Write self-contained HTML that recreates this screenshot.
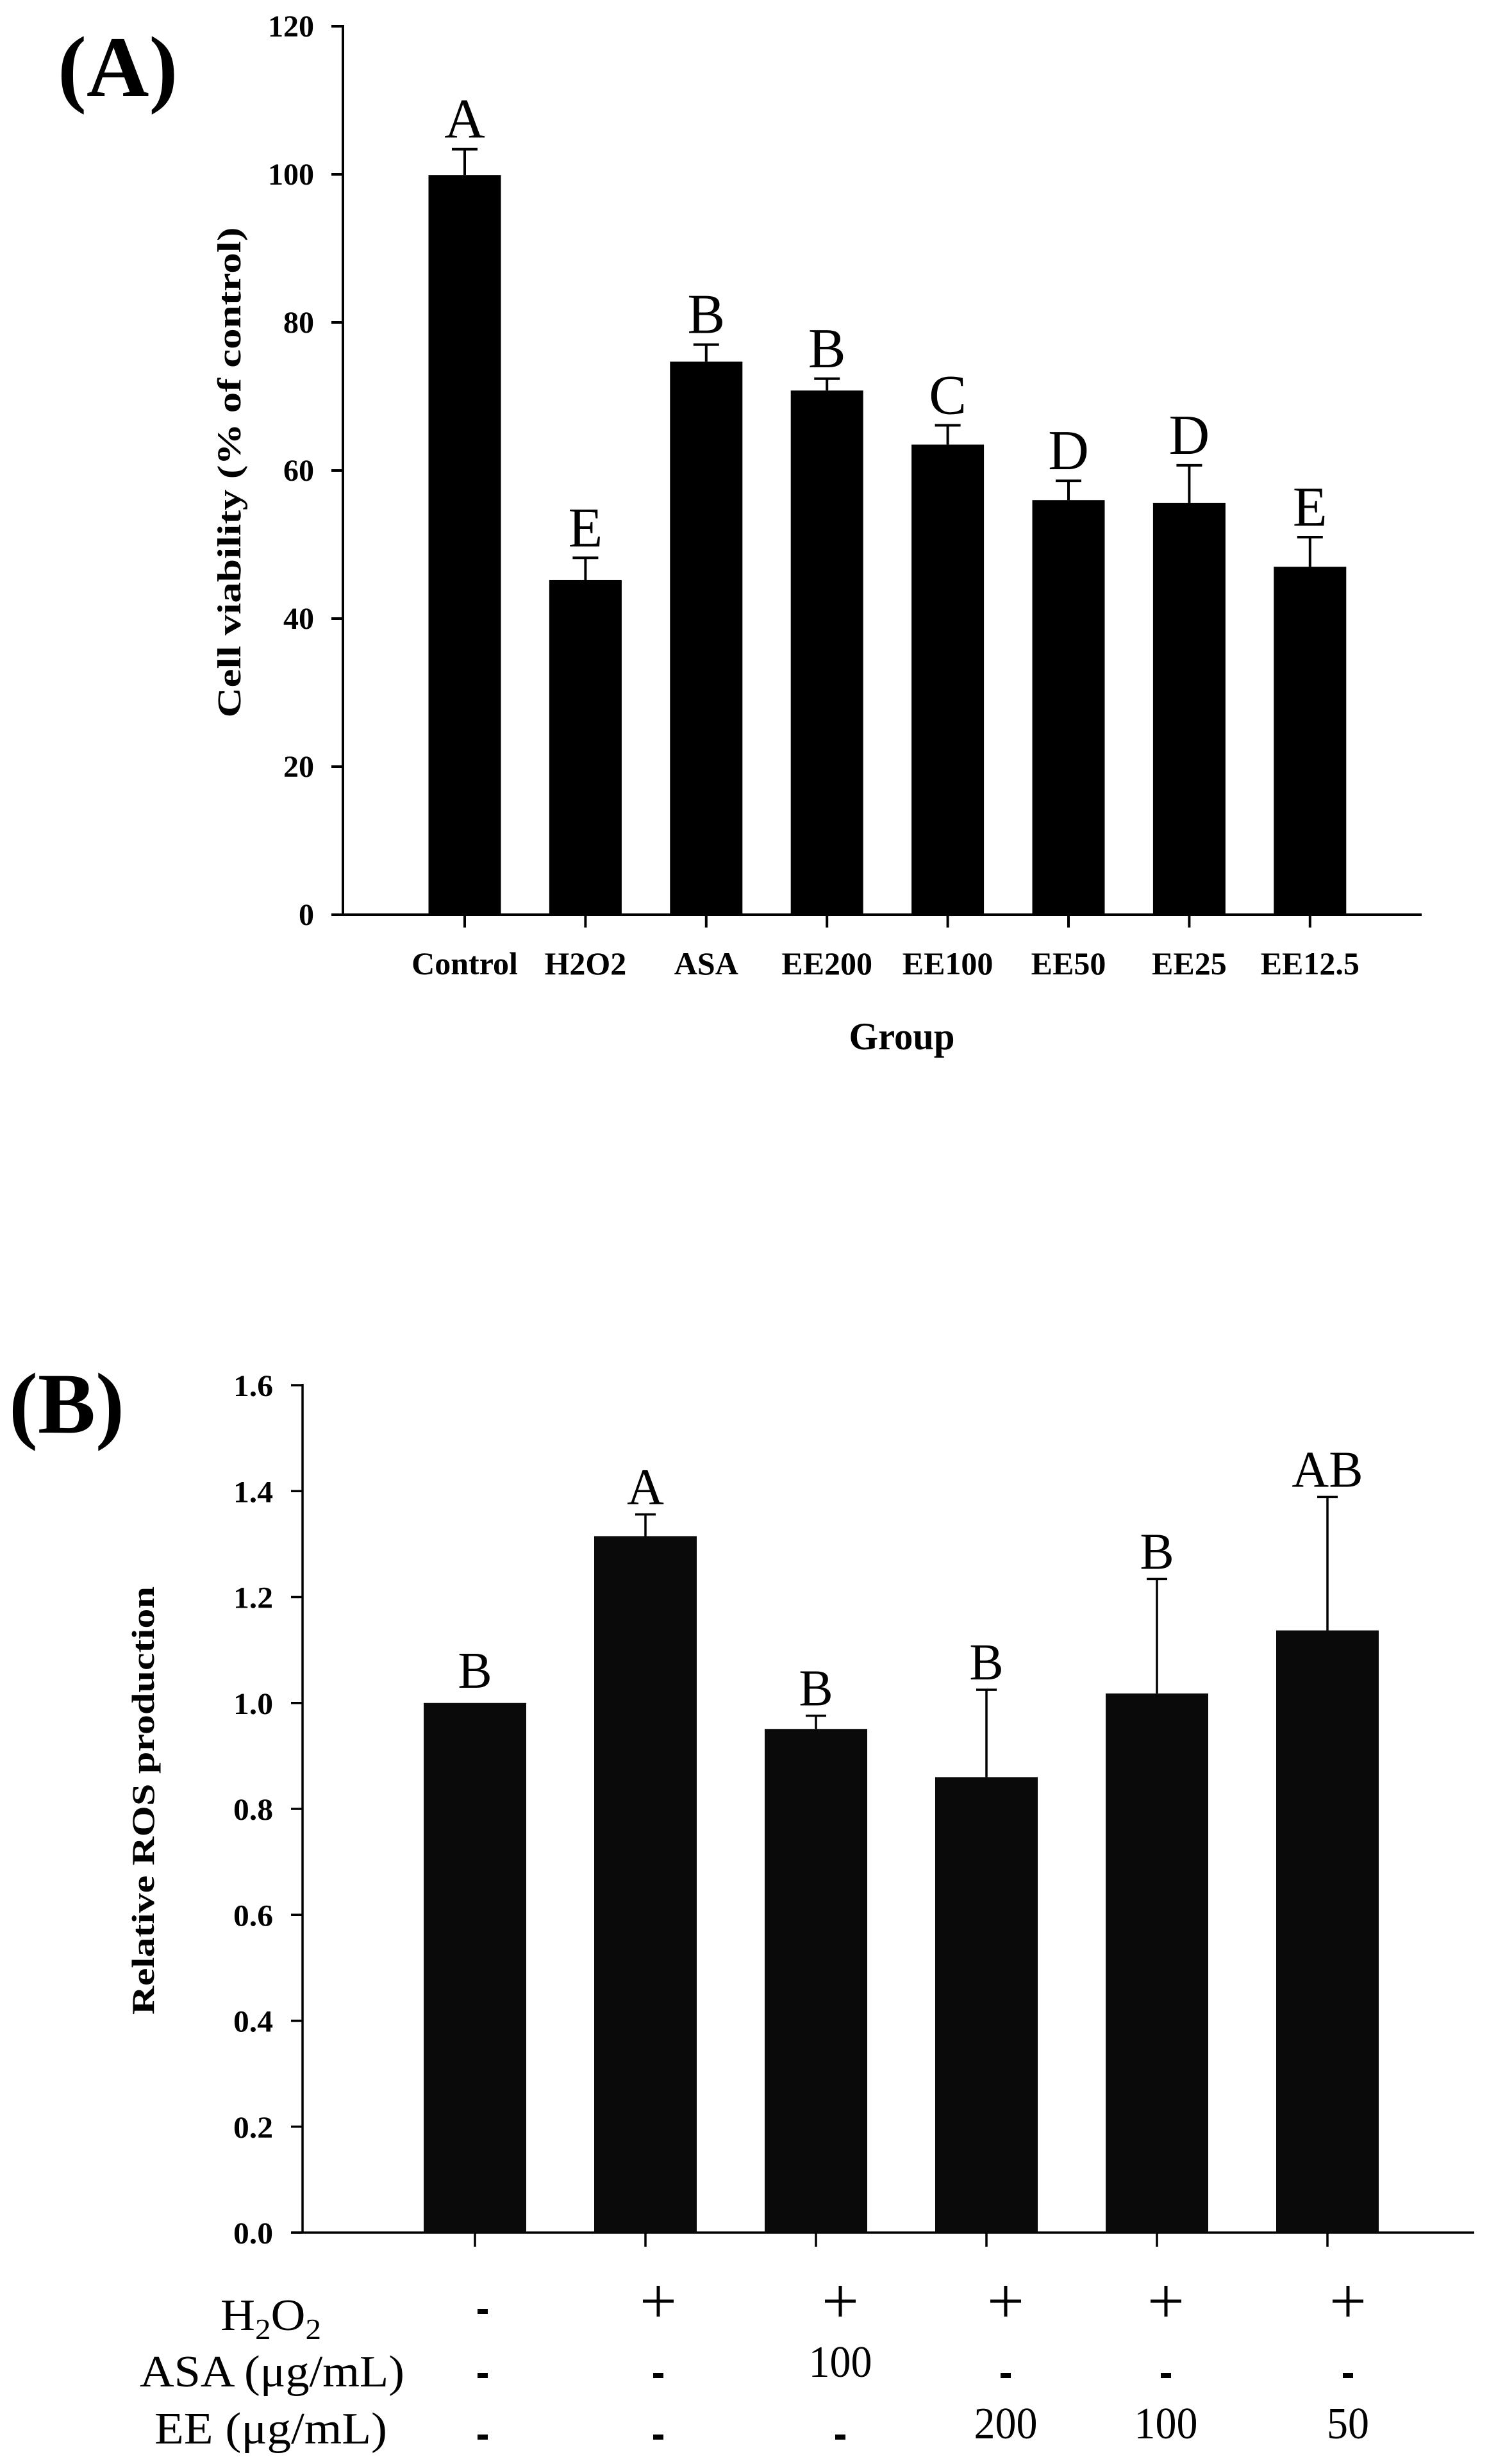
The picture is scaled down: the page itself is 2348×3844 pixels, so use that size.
<!DOCTYPE html>
<html><head><meta charset="utf-8"><style>
html,body{margin:0;padding:0;background:#fff;}
svg{display:block;}
text{font-family:"Liberation Serif",serif;fill:#000;}
</style></head>
<body>
<svg id="fig" width="2348" height="3844" viewBox="0 0 2348 3844" xmlns="http://www.w3.org/2000/svg">
<text x="90" y="150" font-size="135" font-weight="bold">(A)</text>
<text x="14" y="2235" font-size="135" font-weight="bold">(B)</text>
<text transform="translate(375,737) rotate(-90)" text-anchor="middle" font-size="52" font-weight="bold" textLength="765" lengthAdjust="spacingAndGlyphs">Cell viability (% of control)</text>
<text x="1407" y="1637" text-anchor="middle" font-size="60" font-weight="bold" textLength="165" lengthAdjust="spacingAndGlyphs">Group</text>
<text transform="translate(240,2809) rotate(-90)" text-anchor="middle" font-size="50" font-weight="bold" textLength="668" lengthAdjust="spacingAndGlyphs">Relative ROS production</text>
<g id="chartA"></g>
<g id="chartB"></g>
<g id="rowLabels">
<text x="344" y="3635" font-size="70" textLength="157" lengthAdjust="spacingAndGlyphs">H<tspan font-size="46" dy="14">2</tspan><tspan dy="-14">O</tspan><tspan font-size="46" dy="14">2</tspan></text>
<text x="218" y="3723" font-size="70" textLength="413" lengthAdjust="spacingAndGlyphs">ASA (μg/mL)</text>
<text x="241" y="3812" font-size="70" textLength="363" lengthAdjust="spacingAndGlyphs">EE (μg/mL)</text>
</g>
</svg>
<script>
// ---------- Chart A data ----------
const catsA = ["Control","H2O2","ASA","EE200","EE100","EE50","EE25","EE12.5"];
const valsA = [99.9, 45.2, 74.7, 70.8, 63.5, 56.0, 55.6, 47.0];
const errA  = [3.5, 3.0, 2.3, 1.6, 2.6, 2.6, 5.1, 4.0];
const lettersA = ["A","E","B","B","C","D","D","E"];
const ticksA = [0,20,40,60,80,100,120];
// ---------- Chart B data ----------
const valsB = [1.00, 1.315, 0.951, 0.86, 1.018, 1.137];
const errB  = [0, 0.041, 0.025, 0.165, 0.216, 0.252];
const lettersB = ["B","A","B","B","B","AB"];
const ticksB = ["0.0","0.2","0.4","0.6","0.8","1.0","1.2","1.4","1.6"];
const rowH2O2 = ["-","+","+","+","+","+"];
const rowASA  = ["-","-","100","-","-","-"];
const rowEE   = ["-","-","-","200","100","50"];

const NS="http://www.w3.org/2000/svg";
function mk(parent,tag,attrs,txt){const e=document.createElementNS(NS,tag);for(const k in attrs)e.setAttribute(k,attrs[k]);if(txt!==undefined)e.textContent=txt;parent.appendChild(e);return e;}

// Chart A
(function(){
  const g=document.getElementById('chartA');
  const x0=535, y0=1427, yTop=41, xEnd=2218, maxV=120;
  const yA=v=>y0-(v/maxV)*(y0-yTop);
  const c0=725, step=188.4, bw=113;
  const xA=i=>c0+i*step;
  const ax=mk(g,'line',{x1:x0,y1:yTop-2,x2:x0,y2:y0,stroke:'#000','stroke-width':4});
  
  
  const bx=mk(g,'line',{x1:x0-18,y1:y0,x2:xEnd,y2:y0,stroke:'#000','stroke-width':4});
  
  
  ticksA.forEach(t=>{
    const y=yA(t);
    const tk=mk(g,'line',{x1:x0-18,y1:y,x2:x0,y2:y,stroke:'#000','stroke-width':4});
    
    
    const tl=mk(g,'text',{x:490,y:y+16,'text-anchor':'end','font-size':48,'font-weight':'bold'},String(t));
    
    
  });
  catsA.forEach((c,i)=>{
    const cx=xA(i);
    const r=mk(g,'rect',{x:cx-bw/2,y:yA(valsA[i]),width:bw,height:y0-yA(valsA[i]),fill:'#000'});
    
    
    const et=yA(valsA[i]+errA[i]);
    const e=mk(g,'path',{d:`M${cx} ${yA(valsA[i])}V${et}M${cx-20} ${et}H${cx+20}`,stroke:'#000','stroke-width':4,fill:'none'});
    
    
    const tk=mk(g,'line',{x1:cx,y1:y0,x2:cx,y2:y0+20,stroke:'#000','stroke-width':4});
    
    
    const tl=mk(g,'text',{x:cx,y:1520,'text-anchor':'middle','font-size':50,'font-weight':'bold'},c);
    
    
    const lt=mk(g,'text',{x:cx,y:et-18,'text-anchor':'middle','font-size':88},lettersA[i]);
    
    
  });
})();

// Chart B
(function(){
  const g=document.getElementById('chartB');
  const x0=472, y0=3483, yTop=2161, xEnd=2300, maxV=1.6;
  const yB=v=>y0-(v/maxV)*(y0-yTop);
  const c0=741, step=266, bw=160;
  const xB=i=>c0+i*step;
  const signOffsets=[12,20,38,30,14,32];
  const ax=mk(g,'line',{x1:x0,y1:yTop-2,x2:x0,y2:y0,stroke:'#000','stroke-width':3.5});
  
  
  const bx=mk(g,'line',{x1:x0-18,y1:y0,x2:xEnd,y2:y0,stroke:'#000','stroke-width':3.5});
  
  
  ticksB.forEach(t=>{
    const y=yB(parseFloat(t));
    const tk=mk(g,'line',{x1:x0-18,y1:y,x2:x0,y2:y,stroke:'#000','stroke-width':3.5});
    
    
    const tl=mk(g,'text',{x:426,y:y+17,'text-anchor':'end','font-size':48,'font-weight':'bold',textLength:62,lengthAdjust:'spacingAndGlyphs'},t);
    
    
  });
  valsB.forEach((v,i)=>{
    const cx=xB(i);
    const r=mk(g,'rect',{x:cx-bw/2,y:yB(v),width:bw,height:y0-yB(v),fill:'#0a0a0a'});
    
    
    const et=yB(v+errB[i]);
    if(errB[i]>0){
      const e=mk(g,'path',{d:`M${cx} ${yB(v)}V${et}M${cx-16} ${et}H${cx+16}`,stroke:'#000','stroke-width':3.5,fill:'none'});
      
      
    }
    const tk=mk(g,'line',{x1:cx,y1:y0,x2:cx,y2:y0+22,stroke:'#000','stroke-width':3.5});
    
    
    const lt=mk(g,'text',{x:cx,y:et-(errB[i]>0?16:24),'text-anchor':'middle','font-size':80},lettersB[i]);
    
    
    const sx=cx+signOffsets[i];
    [[rowH2O2,3612,'h2o2-sign'],[rowASA,3712,'asa-value'],[rowEE,3808,'ee-value']].forEach(([arr,y,nm])=>{
      const s=arr[i];
      let el;
      if(s==='-'){el=mk(g,'rect',{x:sx-8,y:y-10,width:16,height:8,fill:'#000'});}
      else if(s==='+'){el=mk(g,'path',{d:`M${sx-24} ${y-22}H${sx+24}M${sx} ${y-46}V${y+2}`,stroke:'#000','stroke-width':5,fill:'none'});}
      else{el=mk(g,'text',{x:sx,y:y-4,'text-anchor':'middle','font-size':70,textLength:s.length*33,lengthAdjust:'spacingAndGlyphs'},s);}
      
      
    });
  });
})();
</script>
</body></html>
